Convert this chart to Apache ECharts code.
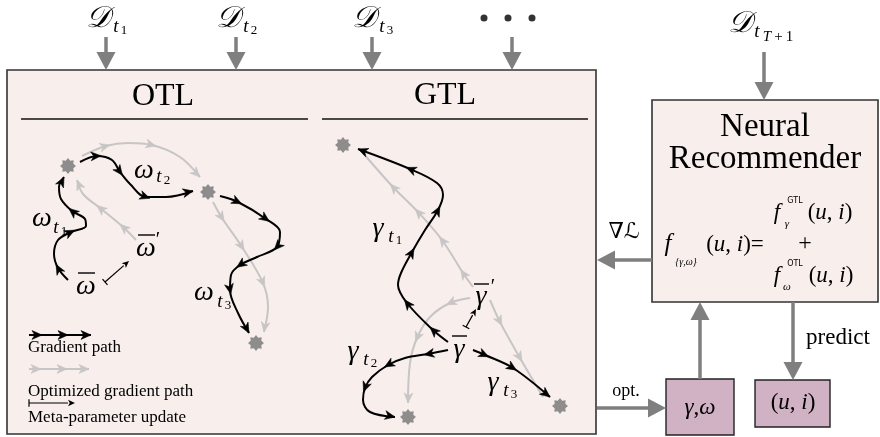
<!DOCTYPE html>
<html><head><meta charset="utf-8">
<script src="https://cdn.jsdelivr.net/npm/echarts@6/dist/echarts.min.js"></script>
<style>html,body{margin:0;padding:0;background:#fff}#c{width:880px;height:437px}</style>
</head><body><div id="c"></div>
<script>
// ---------------- data ----------------
// boxes (diagram units = canvas px via hidden value axes)
const frameNames = ['main', 'neural', 'params', 'output'];
const frameX0 = [7, 652, 666, 755];
const frameY0 = [70, 100, 379, 380];
const frameX1 = [596, 878, 734, 830];
const frameY1 = [434, 302, 435, 427];

// thick grey data-flow arrows: from -> to
const flowFrom = [[106,37],[236,37],[372,37],[512,37],[764,52],[652,260],[700,379],[793,302],[597,408]];
const flowTo   = [[106,70],[236,70],[372,70],[512,70],[764,100],[597,260],[700,302],[793,380],[666,408]];

// gradient paths (black)
const otlGrad1 = [[68,280],[58,268],[54,254],[58,240],[71,232],[86,226],[85,219],[72,211],[61,199],[59,187],[64,177]];
const otlGrad2 = [[80,162],[97,156],[112,160],[120,172],[130,184],[146,197],[166,197],[193,191]];
const otlGrad3 = [[220,196],[238,202],[266,219],[280,232],[277,247],[257,257],[240,265],[231,275],[230,290],[238,313],[249,333]];
const gtlGrad1 = [[448,342],[433,330],[407,303],[398,285],[401,273],[412,252],[425,230],[438,210],[443,195],[437,183],[410,169],[358,149]];
const gtlGrad2 = [[448,350],[428,354],[405,358],[388,365],[372,377],[365,388],[363,400],[370,412],[395,417]];
const gtlGrad3 = [[473,350],[485,355],[513,368],[550,397]];
// optimized gradient paths (light grey)
const otlOpt1 = [[136,240],[123,227],[100,208],[83,194],[77,180]];
const otlOpt2 = [[82,156],[106,146],[128,143],[152,145],[180,157],[200,177]];
const otlOpt3 = [[213,202],[222,218],[242,247],[263,283],[268,307],[264,332]];
const gtlOpt1 = [[473,287],[463,273],[442,240],[418,212],[393,187],[363,153]];
const gtlOpt2 = [[470,298],[450,303],[430,317],[417,338],[410,363],[408,403]];
const gtlOpt3 = [[490,300],[500,322],[520,358],[543,397]];

const gradPaths = [otlGrad1, otlGrad2, otlGrad3, gtlGrad1, gtlGrad2, gtlGrad3];
const gradHeadIdx = [[1,4,7,10],[1,3,5,7],[1,2,4,6,8,10],[1,2,5,7,10,11],[1,3,5,8],[1,2,3]];
const optPaths = [otlOpt1, otlOpt2, otlOpt3, gtlOpt1, gtlOpt2, gtlOpt3];
const optHeadIdx = [[1,2,4],[1,3,5],[1,2,3,5],[1,2,3,4],[1,3,5],[1,2]];

// legend sample lines
const legendGrad = [[29,335],[38,335],[64,335],[91,335]];
const legendOpt  = [[29,369],[37,369],[63,369],[89,369]];
const legendHeadIdx = [1,2,3];

// meta-parameter update arrows (bar -> head)
const metaFrom = [[105,282],[466,327],[29,403]];
const metaTo   = [[129,261],[476,309],[75,403]];

// optimum stars
const stars = [[68,166],[208,192],[256,343],[343,145],[408,417],[560,406]];
// "..." dots
const dots = [[484,18],[508,18],[532,18]];

// thin strokes: underlines and overlines
const strokes = [[21,119,308,119],[322,119,588,119],[78,273,95,273],[138,235,155,235],[452,336,467,336],[474,284,489,284]];

// text pieces: [x, y, text, class]
const textItems = [
  [98,19,'𝒟','cal'],[116,27,'t','sub'],[124,31,'1','subsub'],
  [228,19,'𝒟','cal'],[246,27,'t','sub'],[254,31,'2','subsub'],
  [364,19,'𝒟','cal'],[382,27,'t','sub'],[390,31,'3','subsub'],
  [740,24,'𝒟','cal'],[757,32,'t','sub'],[778,37,'{i|T}{r|\u2009+\u20091}','subsubRich'],
  [163,97,'OTL','title'],[445,96,'GTL','title'],
  [765,127,'Neural','title2'],[765,159,'Recommender','title2'],
  [668,244,'f','fbig'],[686,262,'{γ,ω}','tiny'],[735,245,'{r|(}{i|u}{r|, }{i|i}{r|)=}','formula'],
  [777,213,'f','fmid'],[795,201,'GTL','sup'],[787,224,'γ','subf'],[830,213,'{r|(}{i|u}{r|, }{i|i}{r|)}','formula'],
  [805,244,'+','plus'],
  [777,276,'f','fmid'],[795,264,'OTL','sup'],[787,287,'ω','subf'],[831,276,'{r|(}{i|u}{r|, }{i|i}{r|)}','formula'],
  [624,232,'∇ℒ','nabla'],[838,338,'predict','body'],[626,391,'opt.','small'],
  [700,408,'{i|γ}{r|,}{i|ω}','formula'],[793,403,'{r|(}{i|u}{r|, }{i|i}{r|)}','formula'],
  [28,348,'Gradient path','legend'],[28,392,'Optimized gradient path','legend'],[28,418,'Meta-parameter update','legend'],
  [42,219,'ω','greek'],[56,228,'t','sub'],[64,232,'1','subsub'],
  [144,171,'ω','greek'],[159,177,'t','sub'],[167,181,'2','subsub'],
  [204,293,'ω','greek'],[220,302,'t','sub'],[228,306,'3','subsub'],
  [86,287,'ω','greek'],[146,249,'ω','greek'],[158,241,'′','prime'],
  [378,229,'γ','greek'],[391,237,'t','sub'],[399,241,'1','subsub'],
  [353,352,'γ','greek'],[366,360,'t','sub'],[374,364,'2','subsub'],
  [493,383,'γ','greek'],[506,391,'t','sub'],[514,395,'3','subsub'],
  [459,350,'γ','greek'],[481,297,'γ','greek'],[493,288,'′','prime']
];

// ---------------- styles ----------------
const FONT = "'Liberation Serif','DejaVu Serif',serif";
const CAL = "'DejaVu Serif','DejaVu Sans',serif";
const SANS = "'DejaVu Sans','Noto Sans',sans-serif";
const frameStyle = {
  main:   {fill:'#f8efed', stroke:'#333', lw:1.6},
  neural: {fill:'#f8efed', stroke:'#333', lw:1.6},
  params: {fill:'#d1b1c4', stroke:'#222', lw:1.4},
  output: {fill:'#d1b1c4', stroke:'#222', lw:1.4}
};
const textStyles = {
  cal:{size:30, italic:true, family:CAL},
  sub:{size:19, italic:true}, subsub:{size:13}, subsubRich:{size:15, rich:true},
  title:{size:32}, title2:{size:33}, fbig:{size:25, italic:true}, fmid:{size:23, italic:true},
  tiny:{size:10, italic:true}, formula:{size:23, rich:true}, sup:{size:8, family:SANS},
  subf:{size:11, italic:true}, plus:{size:24}, nabla:{size:22, family:CAL},
  body:{size:23}, small:{size:18}, legend:{size:17, align:'left'},
  greek:{size:28, italic:true}, prime:{size:20}
};
const GRAD_COLOR = '#000', OPT_COLOR = '#c7c5c5', FLOW_COLOR = '#7f7f7f', STAR_COLOR = '#737373';

// ---------------- helpers ----------------
function headData(path, idx) {
  return idx.map(i => {
    const n = path.length;
    let ux, uy, tx, ty;
    if (i === n - 1) {
      ux = path[i][0] - path[i-1][0]; uy = path[i][1] - path[i-1][1];
      const L = Math.hypot(ux, uy); ux /= L; uy /= L;
      tx = path[i][0]; ty = path[i][1];
    } else {
      ux = path[i+1][0] - path[i-1][0]; uy = path[i+1][1] - path[i-1][1];
      const L = Math.hypot(ux, uy); ux /= L; uy /= L;
      tx = path[i][0] + ux * 4; ty = path[i][1] + uy * 4;
    }
    return [tx, ty, ux, uy];
  });
}
function starPath(n, r1, r2) {
  let d = '';
  for (let k = 0; k < 2 * n; k++) {
    const r = k % 2 ? r2 : r1;
    const a = Math.PI * k / n - Math.PI / 2;
    d += (k ? 'L' : 'M') + (50 + r * Math.cos(a)).toFixed(2) + ' ' + (50 + r * Math.sin(a)).toFixed(2);
  }
  return 'path://' + d + 'Z';
}
function makeRich(size) {
  return {
    i: {fontStyle:'italic', fontSize:size, fontFamily:FONT, fill:'#000'},
    r: {fontSize:size, fontFamily:FONT, fill:'#000'}
  };
}
function headSeries(data, color, z) {
  return {
    type:'custom', coordinateSystem:'cartesian2d', silent:true, z:z, data:data,
    renderItem:(params, api) => {
      const tip = api.coord([api.value(0), api.value(1)]);
      const back = api.coord([api.value(0) - api.value(2) * 10, api.value(1) - api.value(3) * 10]);
      let ux = tip[0] - back[0], uy = tip[1] - back[1];
      const L = Math.hypot(ux, uy); ux /= L; uy /= L;
      const len = 10, w = 4.4;
      const bx = tip[0] - ux * len, by = tip[1] - uy * len;
      const nx = tip[0] - ux * len * 0.72, ny = tip[1] - uy * len * 0.72;
      return {type:'polygon', shape:{points:[tip, [bx - uy * w, by + ux * w], [nx, ny], [bx + uy * w, by - ux * w]]},
        style:{fill:color, stroke:color, lineWidth:0.6}};
    }
  };
}

let gradHeads = [], optHeads = [];
gradPaths.forEach((p, k) => { gradHeads = gradHeads.concat(headData(p, gradHeadIdx[k])); });
optPaths.forEach((p, k) => { optHeads = optHeads.concat(headData(p, optHeadIdx[k])); });
gradHeads = gradHeads.concat(headData(legendGrad, legendHeadIdx));
optHeads = optHeads.concat(headData(legendOpt, legendHeadIdx));

const series = [];
// boxes
series.push({
  type:'custom', coordinateSystem:'cartesian2d', silent:true, z:1,
  data: frameNames.map((n, i) => [frameX0[i], frameY0[i], frameX1[i], frameY1[i]]),
  renderItem:(params, api) => {
    const a = api.coord([api.value(0), api.value(1)]), b = api.coord([api.value(2), api.value(3)]);
    const st = frameStyle[frameNames[params.dataIndex]];
    return {type:'rect', shape:{x:Math.min(a[0], b[0]), y:Math.min(a[1], b[1]), width:Math.abs(b[0] - a[0]), height:Math.abs(b[1] - a[1])},
      style:{fill:st.fill, stroke:st.stroke, lineWidth:st.lw}};
  }
});
// thin strokes
series.push({
  type:'custom', coordinateSystem:'cartesian2d', silent:true, z:6, data:strokes,
  renderItem:(params, api) => {
    const a = api.coord([api.value(0), api.value(1)]), b = api.coord([api.value(2), api.value(3)]);
    return {type:'line', shape:{x1:a[0], y1:a[1], x2:b[0], y2:b[1]}, style:{stroke:'#111', lineWidth:1.5}};
  }
});
// flow arrows
series.push({
  type:'custom', coordinateSystem:'cartesian2d', silent:true, z:3,
  data: flowFrom.map((f, i) => [f[0], f[1], flowTo[i][0], flowTo[i][1]]),
  renderItem:(params, api) => {
    const a = api.coord([api.value(0), api.value(1)]), b = api.coord([api.value(2), api.value(3)]);
    let ux = b[0] - a[0], uy = b[1] - a[1]; const L = Math.hypot(ux, uy); ux /= L; uy /= L;
    const hl = 18, hw = 9.5;
    const bx = b[0] - ux * hl, by = b[1] - uy * hl;
    return {type:'group', children:[
      {type:'line', shape:{x1:a[0], y1:a[1], x2:bx + ux, y2:by + uy}, style:{stroke:FLOW_COLOR, lineWidth:3.5}},
      {type:'polygon', shape:{points:[b, [bx - uy * hw, by + ux * hw], [bx + uy * hw, by - ux * hw]]}, style:{fill:FLOW_COLOR}}
    ]};
  }
});
// meta-parameter update arrows
series.push({
  type:'custom', coordinateSystem:'cartesian2d', silent:true, z:6,
  data: metaFrom.map((f, i) => [f[0], f[1], metaTo[i][0], metaTo[i][1]]),
  renderItem:(params, api) => {
    const a = api.coord([api.value(0), api.value(1)]), b = api.coord([api.value(2), api.value(3)]);
    let ux = b[0] - a[0], uy = b[1] - a[1]; const L = Math.hypot(ux, uy); ux /= L; uy /= L;
    const hl = 7, hw = 3.2, bar = 3.8;
    const bx = b[0] - ux * hl, by = b[1] - uy * hl;
    return {type:'group', children:[
      {type:'line', shape:{x1:a[0], y1:a[1], x2:bx, y2:by}, style:{stroke:'#000', lineWidth:1.2}},
      {type:'line', shape:{x1:a[0] - uy * bar, y1:a[1] + ux * bar, x2:a[0] + uy * bar, y2:a[1] - ux * bar}, style:{stroke:'#000', lineWidth:1.2}},
      {type:'polygon', shape:{points:[b, [bx - uy * hw, by + ux * hw], [b[0] - ux * hl * 0.75, b[1] - uy * hl * 0.75], [bx + uy * hw, by - ux * hw]]}, style:{fill:'#000'}}
    ]};
  }
});
// optimized (grey) paths
optPaths.forEach(p => series.push({type:'line', data:p, smooth:0.35, symbol:'none', silent:true, z:2,
  lineStyle:{color:OPT_COLOR, width:2}}));
series.push({type:'line', data:legendOpt, symbol:'none', silent:true, z:2, lineStyle:{color:OPT_COLOR, width:2}});
series.push(headSeries(optHeads, OPT_COLOR, 3));
// gradient (black) paths
gradPaths.forEach(p => series.push({type:'line', data:p, smooth:0.35, symbol:'none', silent:true, z:4,
  lineStyle:{color:GRAD_COLOR, width:2}}));
series.push({type:'line', data:legendGrad, symbol:'none', silent:true, z:4, lineStyle:{color:GRAD_COLOR, width:2}});
series.push(headSeries(gradHeads, GRAD_COLOR, 5));
// stars
series.push({type:'scatter', data:stars, symbol:starPath(8, 50, 36), symbolSize:16, silent:true, z:7,
  itemStyle:{color:STAR_COLOR}});
// dots
series.push({type:'scatter', data:dots, symbol:'circle', symbolSize:7, silent:true, z:7, itemStyle:{color:'#000'}});
// texts
series.push({
  type:'custom', coordinateSystem:'cartesian2d', silent:true, z:8,
  data: textItems.map(t => [t[0], t[1]]),
  renderItem:(params, api) => {
    const t = textItems[params.dataIndex];
    const s = textStyles[t[3]];
    const c = api.coord([api.value(0), api.value(1)]);
    const style = {text:t[2], fill:'#000', fontFamily:s.family || FONT, fontSize:s.size,
      fontStyle:s.italic ? 'italic' : 'normal', align:s.align || 'center', verticalAlign:'middle'};
    if (s.rich) style.rich = makeRich(s.size);
    return {type:'text', x:c[0], y:c[1], style:style};
  }
});

const chart = echarts.init(document.getElementById('c'), null, {renderer:'canvas'});
chart.setOption({
  animation:false,
  grid:{left:0, right:0, top:0, bottom:0},
  xAxis:{type:'value', min:0, max:880, show:false},
  yAxis:{type:'value', min:0, max:437, inverse:true, show:false},
  series:series
});
</script></body></html>
